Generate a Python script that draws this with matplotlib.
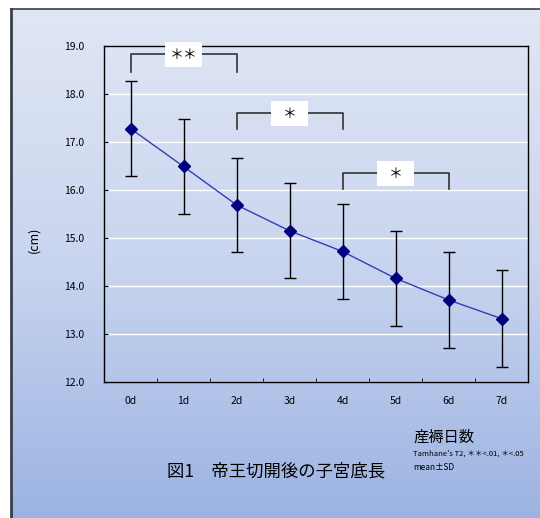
import numpy as np
import matplotlib.pyplot as plt
from matplotlib.colors import LinearSegmentedColormap
from matplotlib.patches import Rectangle

plt.rcParams['font.family'] = ['Noto Sans CJK JP', 'DejaVu Sans']

# データ
days = ['0d', '1d', '2d', '3d', '4d', '5d', '6d', '7d']
mean_cm = [17.28, 16.49, 15.69, 15.15, 14.72, 14.16, 13.71, 13.32]
sd_cm = [0.99, 0.99, 0.98, 0.99, 0.99, 0.99, 1.00, 1.01]

# 有意差（開始, 終了, 記号）
sig_start = [0, 2, 4]
sig_end = [2, 4, 6]
sig_label = ['＊＊', '＊', '＊']
sig_level = [18.83, 17.60, 16.35]
sig_drop = [0.37, 0.33, 0.33]

fig = plt.figure(figsize=(5.4, 5.18), dpi=100)

# 背景グラデーション
bg = fig.add_axes([11 / 540, 0, 1 - 11 / 540, 1 - 9 / 518])
grad = np.linspace(0, 1, 256).reshape(-1, 1)
cmap = LinearSegmentedColormap.from_list('bg', ['#e0e6f4', '#c9d5ef', '#9cb3e2'])
bg.imshow(grad, aspect='auto', cmap=cmap, extent=[0, 1, 0, 1], origin='upper')
bg.set_xticks([])
bg.set_yticks([])
for s in ['right', 'bottom']:
    bg.spines[s].set_visible(False)
bg.spines['left'].set_color('#3a3f4a')
bg.spines['left'].set_linewidth(2.0)
bg.spines['top'].set_color('#3a3f4a')
bg.spines['top'].set_linewidth(1.2)

# グラフ本体
ax = fig.add_axes([104 / 540, 1 - 382 / 518, 424 / 540, 336 / 518])
ax.patch.set_alpha(0)

x = np.arange(len(days))
ax.errorbar(x, mean_cm, yerr=sd_cm, fmt='none', ecolor='black', elinewidth=1,
            capsize=4, capthick=1, zorder=3)
ax.plot(x, mean_cm, color='#3a3ab4', lw=1, marker='D', markersize=6.5,
        markerfacecolor='#000080', markeredgecolor='#000080', zorder=4)

ax.set_xlim(-0.5, 7.5)
ax.set_ylim(12, 19)
ax.set_yticks(np.arange(12, 19.1, 1))
ax.set_yticklabels([f'{v:.1f}' for v in np.arange(12, 19.1, 1)])
ax.set_xticks(x)
ax.set_xticklabels(days)
ax.set_xticks(np.arange(-0.5, 7.6, 1), minor=True)
ax.tick_params(axis='x', which='major', length=0, pad=10, labelsize=7.5)
ax.tick_params(axis='x', which='minor', length=3, direction='in')
ax.tick_params(axis='y', length=3, direction='in', pad=14, labelsize=7.5)
ax.yaxis.grid(True, color='white', lw=1)
ax.set_axisbelow(True)
for s in ax.spines.values():
    s.set_color('black')
    s.set_linewidth(1)

# 有意差ブラケット
for x0, x1, lab, yl, d in zip(sig_start, sig_end, sig_label, sig_level, sig_drop):
    ax.plot([x0, x0, x1, x1], [yl - d, yl, yl, yl - d], color='#333333', lw=1.2,
            zorder=5, clip_on=False)
    xm = (x0 + x1) / 2
    ax.add_patch(Rectangle((xm - 0.35, yl - 0.27), 0.7, 0.52, facecolor='white',
                           edgecolor='none', zorder=6, clip_on=False))
    ax.text(xm, yl - 0.02, lab, ha='center', va='center', fontsize=10, zorder=7)

fig.text(34 / 540, 1 - 240 / 518, '(cm)', rotation=90, ha='center', va='center',
         fontsize=9)
fig.text(413 / 540, 1 - 437 / 518, '産褥日数', ha='left', va='center', fontsize=11)
fig.text(413 / 540, 1 - 454 / 518, "Tamhane's T2, ＊＊<.01, ＊<.05", ha='left',
         va='center', fontsize=5.5)
fig.text(413 / 540, 1 - 468 / 518, 'mean±SD', ha='left', va='center', fontsize=6)
fig.text(276 / 540, 1 - 471 / 518, '図1　帝王切開後の子宮底長', ha='center',
         va='center', fontsize=12.5)

fig.savefig('out.png', dpi=100)
